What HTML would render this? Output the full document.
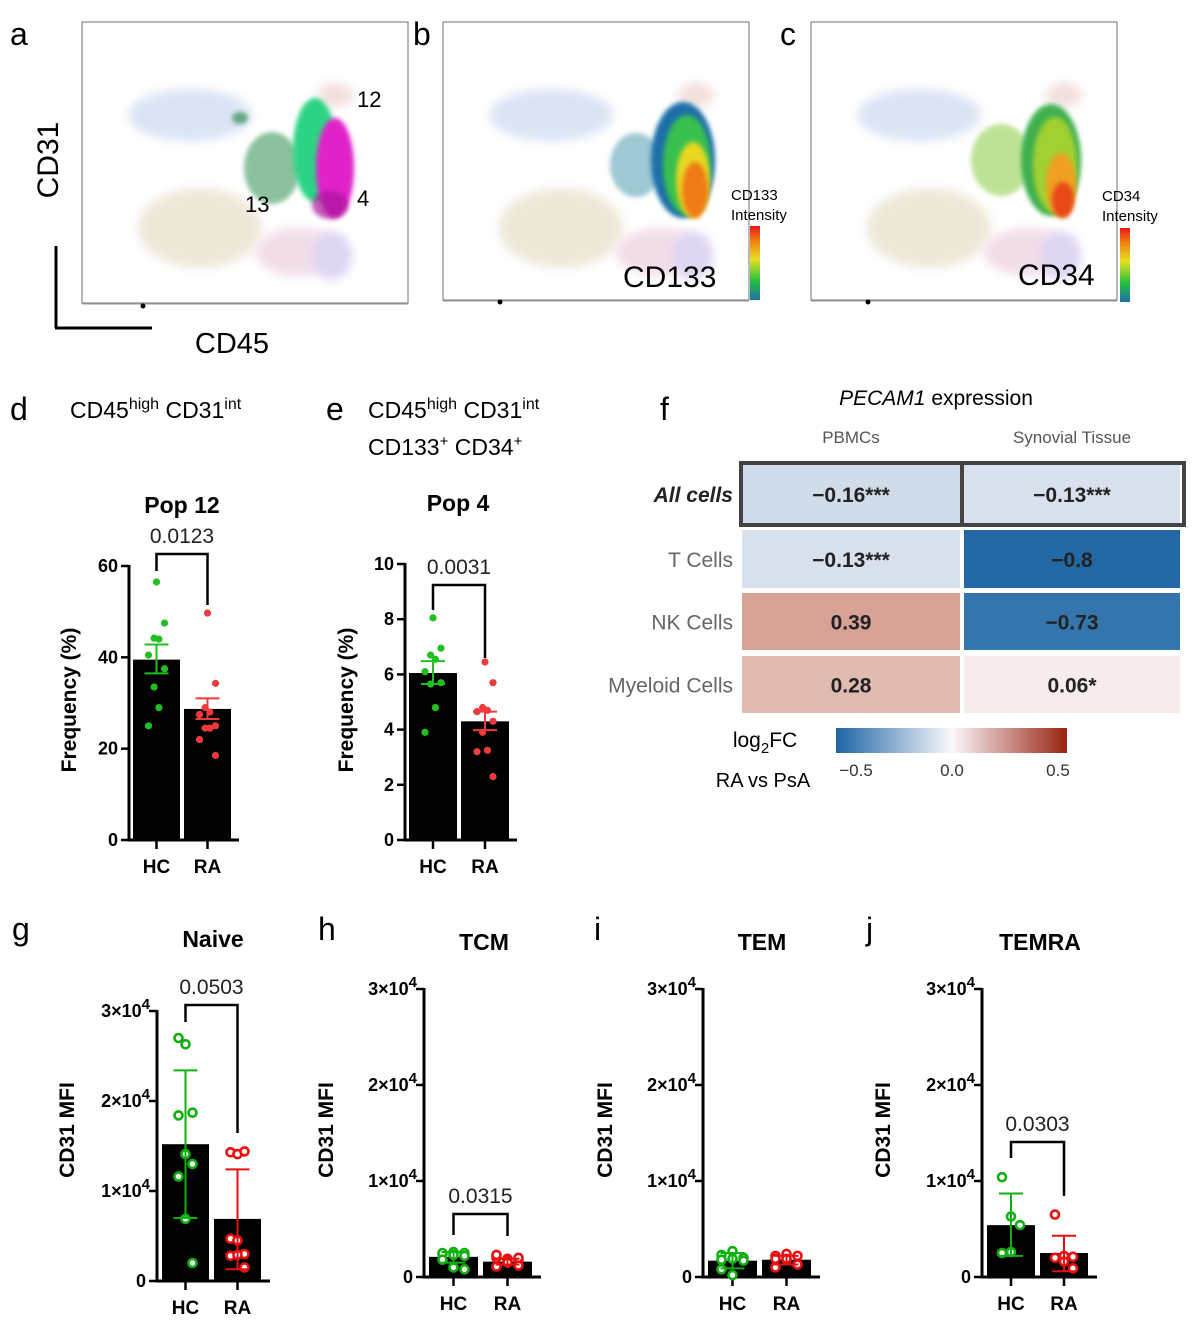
<!DOCTYPE html>
<html><head><meta charset="utf-8"><style>
html,body{margin:0;padding:0;background:#fff;}
svg{display:block;font-family:"Liberation Sans",Arial,sans-serif;}
</style></head><body>
<svg id="fig" width="1198" height="1325" viewBox="0 0 1198 1325" xmlns="http://www.w3.org/2000/svg">
<defs>
<filter id="blur" x="-50%" y="-50%" width="200%" height="200%"><feGaussianBlur stdDeviation="5"/></filter>
<filter id="blur2" x="-50%" y="-50%" width="200%" height="200%"><feGaussianBlur stdDeviation="2.5"/></filter>
<linearGradient id="intens" x1="0" y1="1" x2="0" y2="0"><stop offset="0" stop-color="#1f6fa8"/><stop offset="0.25" stop-color="#20c040"/><stop offset="0.55" stop-color="#e8e020"/><stop offset="0.8" stop-color="#f08010"/><stop offset="1" stop-color="#e81818"/></linearGradient>
<linearGradient id="rdbu" x1="0" y1="0" x2="1" y2="0"><stop offset="0" stop-color="#1d64a6"/><stop offset="0.5" stop-color="#fbf9fb"/><stop offset="1" stop-color="#9a2412"/></linearGradient>
<g id="bgcloud">
<ellipse cx="190" cy="115" rx="62" ry="26" fill="#dae4f4" filter="url(#blur)"/>
<ellipse cx="200" cy="228" rx="62" ry="40" fill="#eee8d8" filter="url(#blur)"/>
<ellipse cx="300" cy="252" rx="45" ry="24" fill="#f2dde9" filter="url(#blur)"/>
<ellipse cx="332" cy="256" rx="20" ry="24" fill="#ded6f3" filter="url(#blur)"/>
<ellipse cx="335" cy="95" rx="18" ry="12" fill="#f2dfdc" filter="url(#blur)"/>
</g>
</defs>

<!-- Panel a -->
<g>
<text x="10" y="45" font-size="32">a</text>
<rect x="82" y="22" width="326" height="281" fill="none" stroke="#888" stroke-width="1.2"/>
<use href="#bgcloud"/>
<ellipse cx="272" cy="168" rx="28" ry="36" fill="#2f8f4f" opacity="0.55" filter="url(#blur2)"/>
<ellipse cx="240" cy="118" rx="8" ry="6" fill="#2f8f4f" opacity="0.7" filter="url(#blur2)"/>
<ellipse cx="315" cy="150" rx="22" ry="52" fill="#2ed486" filter="url(#blur2)"/>
<ellipse cx="335" cy="168" rx="19" ry="50" fill="#e022c8" filter="url(#blur2)"/>
<ellipse cx="330" cy="205" rx="18" ry="14" fill="#a8129c" opacity="0.7" filter="url(#blur2)"/>
<text x="357" y="107" font-size="22">12</text>
<text x="245" y="212" font-size="22">13</text>
<text x="357" y="206" font-size="22">4</text>
<line x1="82" y1="304" x2="408" y2="304" stroke="#999" stroke-width="1"/>
<circle cx="143" cy="306" r="2.5" fill="#000"/>
<text x="58" y="160" font-size="30" transform="rotate(-90 58 160)" text-anchor="middle">CD31</text>
<line x1="56" y1="246" x2="56" y2="328" stroke="#000" stroke-width="3"/>
<line x1="55" y1="328" x2="152" y2="328" stroke="#000" stroke-width="3"/>
<text x="232" y="353" font-size="29" text-anchor="middle">CD45</text>
</g>

<!-- Panel b -->
<g>
<text x="413" y="45" font-size="32">b</text>
<rect x="443" y="22" width="306" height="278" fill="none" stroke="#888" stroke-width="1.2"/>
<g transform="translate(361,0)"><use href="#bgcloud"/>
<ellipse cx="275" cy="165" rx="26" ry="32" fill="#2a86a0" opacity="0.45" filter="url(#blur2)"/>
<ellipse cx="322" cy="160" rx="32" ry="58" fill="#1f6fa8" filter="url(#blur2)"/>
<ellipse cx="326" cy="165" rx="24" ry="50" fill="#38c050" filter="url(#blur2)"/>
<ellipse cx="332" cy="180" rx="17" ry="38" fill="#e8d820" filter="url(#blur2)"/>
<ellipse cx="334" cy="190" rx="13" ry="28" fill="#f07a18" filter="url(#blur2)"/>
</g>
<line x1="443" y1="301" x2="749" y2="301" stroke="#999"/>
<circle cx="500" cy="302" r="2.5" fill="#000"/>
<rect x="750" y="226" width="10" height="74" fill="url(#intens)"/>
<text x="731" y="200" font-size="15">CD133</text>
<text x="731" y="220" font-size="15">Intensity</text>
<text x="623" y="287" font-size="30">CD133</text>
</g>

<!-- Panel c -->
<g>
<text x="780" y="45" font-size="32">c</text>
<rect x="811" y="22" width="306" height="278" fill="none" stroke="#888" stroke-width="1.2"/>
<g transform="translate(729,0)"><use href="#bgcloud"/>
<ellipse cx="272" cy="160" rx="30" ry="36" fill="#88cc40" opacity="0.55" filter="url(#blur2)"/>
<ellipse cx="322" cy="160" rx="30" ry="56" fill="#40b050" filter="url(#blur2)"/>
<ellipse cx="326" cy="165" rx="22" ry="48" fill="#a0d030" filter="url(#blur2)"/>
<ellipse cx="332" cy="185" rx="15" ry="32" fill="#f0a020" filter="url(#blur2)"/>
<ellipse cx="334" cy="200" rx="11" ry="18" fill="#e84818" filter="url(#blur2)"/>
</g>
<line x1="811" y1="301" x2="1117" y2="301" stroke="#999"/>
<circle cx="868" cy="302" r="2.5" fill="#000"/>
<rect x="1120" y="228" width="10" height="74" fill="url(#intens)"/>
<text x="1102" y="201" font-size="15">CD34</text>
<text x="1102" y="221" font-size="15">Intensity</text>
<text x="1018" y="285" font-size="30">CD34</text>
</g>

<!-- headers d e -->
<text x="10" y="420" font-size="32">d</text>
<text x="70" y="418" font-size="23">CD45<tspan dy="-9" font-size="16">high</tspan><tspan dy="9"> CD31</tspan><tspan dy="-9" font-size="16">int</tspan></text>
<text x="326" y="420" font-size="32">e</text>
<text x="368" y="418" font-size="23">CD45<tspan dy="-9" font-size="16">high</tspan><tspan dy="9"> CD31</tspan><tspan dy="-9" font-size="16">int</tspan></text>
<text x="368" y="455" font-size="23">CD133<tspan dy="-9" font-size="15">+</tspan><tspan dy="9"> CD34</tspan><tspan dy="-9" font-size="15">+</tspan></text>

<!-- Panel f heatmap -->
<g id="heatmap">
<text x="660" y="420" font-size="32">f</text>
<text x="936" y="405" font-size="21" text-anchor="middle"><tspan font-style="italic">PECAM1</tspan> expression</text>
<rect x="836" y="728" width="231" height="25" fill="url(#rdbu)"/>
<text x="856" y="776" font-size="17" fill="#333" text-anchor="middle">−0.5</text>
<text x="952" y="776" font-size="17" fill="#333" text-anchor="middle">0.0</text>
<text x="1058" y="776" font-size="17" fill="#333" text-anchor="middle">0.5</text>
<text x="765" y="747" font-size="21" text-anchor="middle">log<tspan dy="6" font-size="15">2</tspan><tspan dy="-6">FC</tspan></text>
<text x="763" y="787" font-size="20" text-anchor="middle">RA vs PsA</text>
</g>

<text x="12" y="940" font-size="32">g</text>
<text x="318" y="940" font-size="32">h</text>
<text x="594" y="940" font-size="32">i</text>
<text x="866" y="940" font-size="32">j</text>
</svg>

<script>
// ---------- Heatmap data ----------
const hmRows = ["All cells", "T Cells", "NK Cells", "Myeloid Cells"];
const hmCols = ["PBMCs", "Synovial Tissue"];
const hmPbmc = [-0.16, -0.13, 0.39, 0.28];
const hmSyn = [-0.13, -0.8, -0.73, 0.06];
const hmPbmcLabels = ["−0.16***", "−0.13***", "0.39", "0.28"];
const hmSynLabels = ["−0.13***", "−0.8", "−0.73", "0.06*"];

// ---------- Bar panel data ----------
const groups = ["HC", "RA"];
const pop12Means = [39.5, 28.7];
const pop12Err = [[36.5, 42.8], [26.5, 31.0]];
const pop12Hc = [56.5, 47.5, 44.2, 44.0, 40.5, 37.5, 33.5, 29.0, 25.0];
const pop12Ra = [49.7, 34.3, 29.0, 28.0, 27.5, 25.0, 24.5, 24.5, 22.0, 18.5];
const pop12Ticks = [0, 20, 40, 60];

const pop4Means = [6.05, 4.3];
const pop4Err = [[5.65, 6.48], [3.98, 4.65]];
const pop4Hc = [8.05, 6.95, 6.7, 6.55, 6.1, 5.7, 5.65, 4.8, 3.9];
const pop4Ra = [6.45, 5.7, 4.8, 4.7, 4.65, 4.3, 3.9, 3.25, 3.2, 2.3];
const pop4Ticks = [0, 2, 4, 6, 8, 10];

const mfiTicks = [0, 10000, 20000, 30000];
const mfiTickLabels = ["0", "1×10", "2×10", "3×10"];

const naiveMeans = [15200, 6900];
const naiveErr = [[7000, 23400], [1300, 12400]];
const naiveHc = [27000, 26300, 18700, 18400, 14100, 13000, 11600, 6900, 2000];
const naiveRa = [14300, 14100, 14400, 4700, 4500, 3000, 2800, 2900, 1500];

const tcmMeans = [2100, 1600];
const tcmErr = [[1500, 2600], [1300, 1900]];
const tcmHc = [2400, 2600, 2500, 2500, 2300, 2200, 1800, 1000, 800];
const tcmRa = [2000, 1900, 1800, 2300, 1700, 1200, 1100, 1500, 2000];

const temMeans = [1700, 1800];
const temErr = [[900, 2500], [1300, 2200]];
const temHc = [2300, 2700, 2000, 1800, 1900, 1700, 800, 200];
const temRa = [2200, 2400, 2200, 1900, 1800, 1300, 1000, 1900];

const temraMeans = [5400, 2500];
const temraErr = [[2200, 8700], [600, 4300]];
const temraHc = [10400, 6300, 5400, 2500, 2600];
const temraRa = [6500, 2200, 2100, 2000, 1600, 900];

const NS = "http://www.w3.org/2000/svg";
const fig = document.getElementById("fig");
function mk(tag, attrs, parent) {
  const e = document.createElementNS(NS, tag);
  for (const k in attrs) e.setAttribute(k, attrs[k]);
  (parent || fig).appendChild(e);
  return e;
}

// ---------- Heatmap ----------
(function () {
  const g = document.getElementById("heatmap");
  const colX = [742, 964], colW = [218, 216];
  const rowY = [464, 530, 593, 656], rowH = [60, 58, 57, 57];
  function color(v) {
    const t = Math.max(-1, Math.min(1, v / 0.85));
    const mid = [251, 249, 251];
    const end = t < 0 ? [20, 95, 160] : [170, 60, 30];
    const a = Math.abs(t);
    const c = mid.map((m, i) => Math.round(m + (end[i] - m) * a));
    return "rgb(" + c.join(",") + ")";
  }
  hmCols.forEach((c, j) => {
    const t = mk("text", { x: colX[j] + colW[j] / 2, y: 443, "font-size": 17, fill: "#555", "text-anchor": "middle" }, g);
    
    
    t.textContent = c;
  });
  hmRows.forEach((r, i) => {
    const lab = mk("text", { x: 733, y: rowY[i] + rowH[i] / 2 + 8, "font-size": 21, fill: i === 0 ? "#222" : "#666", "text-anchor": "end" }, g);
    if (i === 0) { lab.setAttribute("font-weight", "bold"); lab.setAttribute("font-style", "italic"); }
    
    
    lab.textContent = r;
    [hmPbmc, hmSyn].forEach((arr, j) => {
      const rc = mk("rect", { x: colX[j], y: rowY[i], width: colW[j], height: rowH[i], fill: color(arr[i]) }, g);
      
      
      const tx = mk("text", { x: colX[j] + colW[j] / 2, y: rowY[i] + rowH[i] / 2 + 8, "font-size": 21, "font-weight": "bold", fill: "#222", "text-anchor": "middle" }, g);
      
      
      tx.textContent = (j === 0 ? hmPbmcLabels : hmSynLabels)[i];
    });
  });
  const box = mk("rect", { x: 741, y: 463, width: 443, height: 62, fill: "none", stroke: "#444", "stroke-width": 4 }, g);
  
  
  mk("line", { x1: 962, y1: 463, x2: 962, y2: 525, stroke: "#444", "stroke-width": 4 }, g);
})();

// ---------- Bar chart helper ----------
function barPanel(cfg, means, err, hc, ra, ticks, tickLabels) {
  const g = mk("g", {});
  
  
  const y = v => cfg.y0 - (v - 0) / (cfg.max) * (cfg.y0 - cfg.yTop);
  const cx = [cfg.ax + cfg.gap + cfg.bw / 2, cfg.ax + cfg.gap * 2 + cfg.bw * 1.5];
  mk("line", { x1: cfg.ax, y1: y(cfg.max) - 1, x2: cfg.ax, y2: cfg.y0 + 1.5, stroke: "#000", "stroke-width": 3 }, g);
  mk("line", { x1: cfg.ax - 1.5, y1: cfg.y0, x2: cfg.ax + cfg.gap * 3 + cfg.bw * 2 + 4, y2: cfg.y0, stroke: "#000", "stroke-width": 3 }, g);
  ticks.forEach((t, i) => {
    mk("line", { x1: cfg.ax - 8, y1: y(t), x2: cfg.ax, y2: y(t), stroke: "#000", "stroke-width": 2.5 }, g);
    const lbl = mk("text", { x: cfg.ax - 11, y: y(t) + 6, "font-size": cfg.tfs, "font-weight": "bold", "text-anchor": "end" }, g);
    
    
    if (tickLabels && t !== 0) {
      lbl.textContent = tickLabels[i];
      const sup = mk("tspan", { dy: -8, "font-size": cfg.tfs - 3 }, lbl);
      sup.textContent = "4";
      lbl.setAttribute("x", cfg.ax - 7);
    } else {
      lbl.textContent = tickLabels ? tickLabels[i] : String(t);
    }
  });
  groups.forEach((gname, k) => {
    const bar = mk("rect", { x: cx[k] - cfg.bw / 2, y: y(means[k]), width: cfg.bw, height: cfg.y0 - y(means[k]), fill: "#000" }, g);
    
    
    mk("line", { x1: cx[k], y1: cfg.y0, x2: cx[k], y2: cfg.y0 + 9, stroke: "#000", "stroke-width": 2.5 }, g);
    const xl = mk("text", { x: cx[k], y: cfg.y0 + 33, "font-size": 19, "font-weight": "bold", "text-anchor": "middle" }, g);
    
    
    xl.textContent = gname;
  });
  const cols = ["#1fc01f", "#f03a3a"];
  const colsOpen = ["#10b010", "#e81010"];
  [hc, ra].forEach((pts, k) => {
    pts.forEach((v, i) => {
      const off = cfg.open ? ((i % 3) - 1) * cfg.jit : ((i % 2) ? 1 : -1) * (i > 0 ? cfg.jit : 0) * ((i % 4) < 2 ? 1 : 0.3);
      let c;
      if (cfg.open) {
        c = mk("circle", { cx: cx[k] + off, cy: y(v), r: 4, fill: "#fff", stroke: colsOpen[k], "stroke-width": 2.6 }, g);
      } else {
        c = mk("circle", { cx: cx[k] + off, cy: y(v), r: 3.6, fill: cols[k] }, g);
      }
      
      
    });
    const ec = cfg.open ? colsOpen[k] : cols[k];
    mk("line", { x1: cx[k], y1: y(err[k][0]), x2: cx[k], y2: y(err[k][1]), stroke: ec, "stroke-width": 2 }, g);
    [0, 1].forEach(e => {
      const eb = mk("line", { x1: cx[k] - 12, y1: y(err[k][e]), x2: cx[k] + 12, y2: y(err[k][e]), stroke: ec, "stroke-width": 2 }, g);
      
      
    });
  });
  const tt = mk("text", { x: cfg.titleX, y: cfg.titleY, "font-size": 23, "font-weight": "bold", "text-anchor": "middle" }, g);
  
  
  tt.textContent = cfg.title;
  const yl = mk("text", { x: cfg.ylX, y: cfg.ylY, "font-size": 21, "font-weight": "bold", "text-anchor": "middle", transform: "rotate(-90 " + cfg.ylX + " " + cfg.ylY + ")" }, g);
  
  
  yl.textContent = cfg.ylabel;
  if (cfg.p) {
    const br = mk("path", { d: "M" + cx[0] + " " + cfg.bHc + " V" + cfg.bTop + " H" + cx[1] + " V" + cfg.bRa, fill: "none", stroke: "#000", "stroke-width": 2.5 }, g);
    
    
    const pt = mk("text", { x: (cx[0] + cx[1]) / 2, y: cfg.bTop - 11, "font-size": 21, fill: "#222", "text-anchor": "middle" }, g);
    
    
    pt.textContent = cfg.p;
  }
}

barPanel({ name: "panel-d-pop12", ax: 129, y0: 840, yTop: 566, max: 60, gap: 4, bw: 47, jit: 8, tfs: 18,
  title: "Pop 12", titleX: 182, titleY: 513, ylabel: "Frequency (%)", ylX: 76, ylY: 700,
  p: "0.0123", bTop: 554, bHc: 571, bRa: 605 }, pop12Means, pop12Err, pop12Hc, pop12Ra, pop12Ticks, null);
barPanel({ name: "panel-e-pop4", ax: 405, y0: 840, yTop: 564, max: 10, gap: 4, bw: 48, jit: 8, tfs: 18,
  title: "Pop 4", titleX: 458, titleY: 511, ylabel: "Frequency (%)", ylX: 353, ylY: 700,
  p: "0.0031", bTop: 585, bHc: 610, bRa: 658 }, pop4Means, pop4Err, pop4Hc, pop4Ra, pop4Ticks, null);

barPanel({ name: "panel-g-naive", ax: 157, y0: 1281, yTop: 1011, max: 30000, gap: 5, bw: 47, jit: 7, tfs: 18, open: true,
  title: "Naive", titleX: 213, titleY: 947, ylabel: "CD31 MFI", ylX: 74, ylY: 1130,
  p: "0.0503", bTop: 1005, bHc: 1022, bRa: 1133 }, naiveMeans, naiveErr, naiveHc, naiveRa, mfiTicks, mfiTickLabels);
barPanel({ name: "panel-h-tcm", ax: 424, y0: 1277, yTop: 989, max: 30000, gap: 5, bw: 49, jit: 11, tfs: 18, open: true,
  title: "TCM", titleX: 484, titleY: 950, ylabel: "CD31 MFI", ylX: 333, ylY: 1130,
  p: "0.0315", bTop: 1214, bHc: 1235, bRa: 1236 }, tcmMeans, tcmErr, tcmHc, tcmRa, mfiTicks, mfiTickLabels);
barPanel({ name: "panel-i-tem", ax: 703, y0: 1277, yTop: 989, max: 30000, gap: 5, bw: 49, jit: 11, tfs: 18, open: true,
  title: "TEM", titleX: 762, titleY: 950, ylabel: "CD31 MFI", ylX: 612, ylY: 1130 },
  temMeans, temErr, temHc, temRa, mfiTicks, mfiTickLabels);
barPanel({ name: "panel-j-temra", ax: 982, y0: 1277, yTop: 989, max: 30000, gap: 5, bw: 48, jit: 9, tfs: 18, open: true,
  title: "TEMRA", titleX: 1040, titleY: 950, ylabel: "CD31 MFI", ylX: 890, ylY: 1130,
  p: "0.0303", bTop: 1142, bHc: 1158, bRa: 1196 }, temraMeans, temraErr, temraHc, temraRa, mfiTicks, mfiTickLabels);
</script>
</body></html>
